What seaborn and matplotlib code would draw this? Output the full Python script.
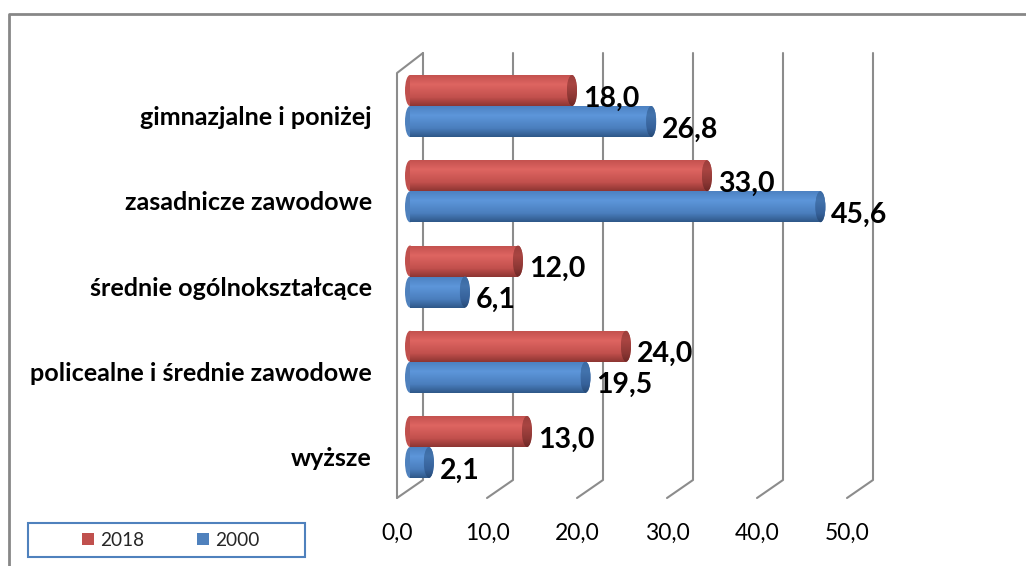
import numpy as np
import pandas as pd
import seaborn as sns
import matplotlib
matplotlib.use("Agg")
import matplotlib.pyplot as plt
from matplotlib.lines import Line2D
from matplotlib.patches import Ellipse, Rectangle
from matplotlib.transforms import IdentityTransform, ScaledTranslation
from matplotlib.colors import to_rgb, LinearSegmentedColormap

# ---------------- data ----------------
categories = ["gimnazjalne i poniżej", "zasadnicze zawodowe", "średnie ogólnokształcące",
              "policealne i średnie zawodowe", "wyższe"]
years = ["2018", "2000"]
values_2018 = [18.0, 33.0, 12.0, 24.0, 13.0]
values_2000 = [26.8, 45.6, 6.1, 19.5, 2.1]
x_ticks = [0, 10, 20, 30, 40, 50]
x_tick_labels = ["0,0", "10,0", "20,0", "30,0", "40,0", "50,0"]

# ---------------- style ----------------
W, H, DPI = 1026, 566, 100
sns.set_style("white")
plt.rcParams["font.family"] = ["Lato", "DejaVu Sans"]

base_colors = {"2018": "#C0504D", "2000": "#4F81BD"}
body_stops = {
    "2018": ["#C4524F", "#DE6561", "#C2504D", "#8E3633"],
    "2000": ["#4D82C2", "#5D96DA", "#4A7EBD", "#2F5889"],
}
cap_stops = {
    "2018": ["#9C3F3C", "#A94542", "#8C3734", "#6E2826"],
    "2000": ["#3B6AA3", "#4373AD", "#36619A", "#274A75"],
}
stop_pos = [0.0, 0.3, 0.72, 1.0]

fig = plt.figure(figsize=(W / DPI, H / DPI), dpi=DPI)
fig.patch.set_facecolor("white")
AX_L, AX_R, AX_T, AX_B = 410, 860, 53, 498
ax = fig.add_axes([AX_L / W, (H - AX_B) / H, (AX_R - AX_L) / W, (AX_B - AX_T) / H])

df = pd.DataFrame({
    "kategoria": categories * 2,
    "rok": [years[0]] * len(categories) + [years[1]] * len(categories),
    "wartość": values_2018 + values_2000,
})
sns.barplot(data=df, x="wartość", y="kategoria", hue="rok", hue_order=years, order=categories,
            orient="h", palette=base_colors, width=0.727, dodge=True, legend=False,
            errorbar=None, saturation=1, ax=ax, zorder=2)

XLIM = (0, 50)
YLIM = (4.598, -0.622)
px_per_unit = (AX_R - AX_L) / (XLIM[1] - XLIM[0])
cap_w = 10 / px_per_unit


def make_cmap(stops):
    return LinearSegmentedColormap.from_list("g", list(zip(stop_pos, [to_rgb(c) for c in stops])))


def gradient_fill(patch, cmap, x0, x1, ylo, yhi, z):
    grad = np.linspace(0, 1, 64).reshape(-1, 1)
    im = ax.imshow(grad, cmap=cmap, extent=(x0, x1, yhi, ylo), origin="upper",
                   aspect="auto", interpolation="bilinear", zorder=z)
    im.set_clip_path(patch)
    im.set_clip_box(None)
    return im


bars = [p for p in ax.patches if isinstance(p, Rectangle)]
for bar in bars:
    bb = bar.get_bbox()
    x0, x1 = min(bb.x0, bb.x1), max(bb.x0, bb.x1)
    ylo, yhi = min(bb.y0, bb.y1), max(bb.y0, bb.y1)
    if x1 - x0 <= 0:
        continue
    fc = bar.get_facecolor()
    yr = "2018" if np.allclose(fc[:3], to_rgb(base_colors["2018"]), atol=0.02) else "2000"
    bar.set_edgecolor("none")
    yc = (ylo + yhi) / 2
    h = yhi - ylo
    body = make_cmap(body_stops[yr])
    cap = make_cmap(cap_stops[yr])
    # left rounded end
    le = Ellipse((x0, yc), cap_w, h, facecolor=base_colors[yr], edgecolor="none",
                 zorder=2, clip_on=False)
    ax.add_patch(le)
    gradient_fill(le, body, x0 - cap_w / 2, x0 + cap_w / 2, ylo, yhi, 2.1)
    # body
    gradient_fill(bar, body, x0, x1, ylo, yhi, 2.2)
    # right cap
    re = Ellipse((x1, yc), cap_w, h, facecolor=cap_stops[yr][1], edgecolor="none",
                 zorder=2.3, clip_on=False)
    ax.add_patch(re)
    gradient_fill(re, cap, x1 - cap_w / 2, x1 + cap_w / 2, ylo, yhi, 2.4)
    # value label
    ax.annotate(f"{x1:.1f}".replace(".", ","), xy=(x1, yc), xytext=(11, -16),
                textcoords="offset pixels", ha="left", va="baseline",
                fontsize=20.5, fontweight="bold", color="black", zorder=5,
                annotation_clip=False)

ax.set_xlim(*XLIM)
ax.set_ylim(*YLIM)
ax.set_autoscale_on(False)
for s in ax.spines.values():
    s.set_visible(False)
ax.set_xlabel("")
ax.set_ylabel("")
ax.grid(False)
ax.set_facecolor("none")

# 3D-like back wall grid (derived from the axis scale)
fig.canvas.draw()
tr = ax.get_xaxis_transform()
depth = 13
grid_kw = dict(color="#8C8C8C", lw=1.5, transform=IdentityTransform(), clip_on=False, zorder=0.5)
for v in x_ticks:
    xb, ytop = tr.transform((v, 1.0))
    _, ybot = tr.transform((v, 0.0))
    ax.add_line(Line2D([xb + depth, xb + depth, xb - depth], [ytop, ybot + 18, ybot], **grid_kw))
    if v == x_ticks[0]:
        ax.add_line(Line2D([xb - depth, xb - depth, xb + depth], [ybot, ytop - 20, ytop], **grid_kw))

# ticks
ax.set_xticks(x_ticks)
ax.set_xticklabels(x_tick_labels, fontsize=16.5)
ax.tick_params(axis="x", length=0, pad=18, colors="black")
for lab in ax.get_xticklabels():
    lab.set_transform(lab.get_transform() + ScaledTranslation(-depth / DPI, 0, fig.dpi_scale_trans))

ax.set_yticks(range(len(categories)))
ax.set_yticklabels(categories, fontsize=18.1, fontweight="bold")
ax.tick_params(axis="y", length=0, pad=(AX_L - 372) * 72 / DPI, colors="black")
for lab in ax.get_yticklabels():
    lab.set_verticalalignment("baseline")
    lab.set_transform(lab.get_transform() + ScaledTranslation(0, -19 / DPI, fig.dpi_scale_trans))

# legend
handles = [Rectangle((0, 0), 1, 1, facecolor=base_colors[y], edgecolor="none") for y in years]
fig.legend(handles, years, loc="center left", bbox_to_anchor=(82 / W, 1 - 540 / H), ncol=2,
           frameon=False, handlelength=0.63, handleheight=0.63, handletextpad=0.32,
           columnspacing=2.8, fontsize=13.7, borderpad=0, borderaxespad=0)
fig.add_artist(Rectangle((28 / W, 1 - 557 / H), 277 / W, 34 / H, transform=fig.transFigure,
                         fill=False, edgecolor="#4F81BD", lw=1.5))

# outer chart frame
fig.add_artist(Line2D([9 / W, 9 / W, 1.0], [0.0, 1 - 14 / H, 1 - 14 / H],
                      transform=fig.transFigure, color="#878787", lw=2))

fig.savefig("out.png", dpi=DPI)
